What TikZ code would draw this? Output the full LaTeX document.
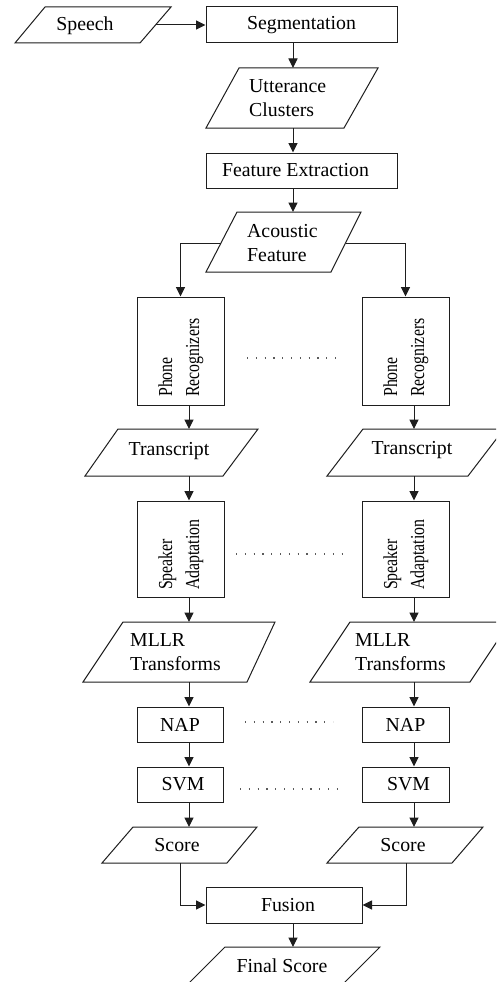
\documentclass[tikz,border=0pt]{standalone}
\usepackage{fontspec}
\setmainfont{Liberation Serif}
\usepackage{graphicx}
\usetikzlibrary{arrows.meta}
\definecolor{lc}{RGB}{30,30,30}
\definecolor{dotc}{RGB}{90,90,90}
\tikzset{
  every node/.style={font=\fontsize{19.8}{24}\selectfont, text=black, inner sep=0pt},
  stepbox/.style={draw=lc, line width=1pt, fill=white},
  pgon/.style={draw=lc, line width=1pt, fill=white, line join=miter},
  arr/.style={draw=lc, line width=1pt, -{Triangle[length=9.5pt,width=9pt]}},
  dots/.style={draw=dotc, line width=1.1pt, dash pattern=on 1.1pt off 7.7pt},
  rot/.style={rotate=90, anchor=base west},
  ml/.style={align=left, anchor=base west},
}
\begin{document}
\begin{tikzpicture}[x=1pt,y=-1pt]
\useasboundingbox (0,0) rectangle (496,982);
\clip (0,0) rectangle (496,982);
\fill[white] (0,0) rectangle (496,982);

% ---------- parallelogram outlines ----------
\draw[pgon] (45,7) -- (171,7) -- (140,43) -- (15,43) -- cycle;        % speech
\draw[pgon] (239,68) -- (378,68) -- (344,128) -- (206,128) -- cycle;  % utterance
\draw[pgon] (237,212) -- (361,212) -- (331,272) -- (206,272) -- cycle;% acoustic
\draw[pgon] (118,429) -- (258,429) -- (223,476) -- (85,476) -- cycle; % transcript L
\draw[pgon] (363,429) -- (504,429) -- (468,476) -- (327,476) -- cycle;% transcript R
\draw[pgon] (123,622) -- (275,622) -- (247,682) -- (83,682) -- cycle; % MLLR L
\draw[pgon] (350,622) -- (510,622) -- (470,682) -- (310,682) -- cycle;% MLLR R
\draw[pgon] (133,827) -- (257,827) -- (227,863) -- (102,863) -- cycle;% score L
\draw[pgon] (359,827) -- (483,827) -- (452,863) -- (327,863) -- cycle;% score R
\draw[pgon] (225,947) -- (380,947) -- (344,983) -- (189,983) -- cycle;% final

% ---------- texts of parallelograms ----------
\node (speech) at (85,26) {Speech};
\node[ml] (utt) at (249,116) {Utterance\\Clusters};
\node[ml] (acou) at (247,261) {Acoustic\\Feature};
\node (trL) at (169,451) {Transcript};
\node (trR) at (412,450) {Transcript};
\node[ml] (mllrL) at (130,670) {MLLR\\Transforms};
\node[ml] (mllrR) at (355,670) {MLLR\\Transforms};
\node (scL) at (177,845) {Score};
\node (scR) at (403,845) {Score};
\node (final) at (282,966) {Final Score};

% ---------- rectangles ----------
\node[stepbox, minimum width=191pt, minimum height=36pt] (seg) at (301.5,25) {Segmentation};
\node[stepbox, minimum width=191pt, minimum height=35pt] (feat) at (301.5,170.5) {\hspace*{-12pt}Feature Extraction};
\node[stepbox, minimum width=87pt, minimum height=108pt] (prL) at (180.5,351) {};
\node[stepbox, minimum width=87pt, minimum height=108pt] (prR) at (405.5,351) {};
\node[stepbox, minimum width=87pt, minimum height=96pt] (saL) at (180.5,549) {};
\node[stepbox, minimum width=87pt, minimum height=96pt] (saR) at (405.5,549) {};
\node[stepbox, minimum width=86pt, minimum height=35pt] (napL) at (180,724.5) {NAP};
\node[stepbox, minimum width=87pt, minimum height=35pt] (napR) at (405.5,724.5) {NAP};
\node[stepbox, minimum width=86pt, minimum height=35pt] (svmL) at (180,784.5) {\hspace*{6pt}SVM};
\node[stepbox, minimum width=87pt, minimum height=35pt] (svmR) at (405.5,784.5) {\hspace*{6pt}SVM};
\node[stepbox, minimum width=156pt, minimum height=36pt] (fus) at (284,905) {\hspace*{8pt}Fusion};

% rotated labels
\node[rot] (prL1) at (172,397) {\scalebox{0.8}[1]{Phone}};
\node[rot] (prL2) at (199,397) {\scalebox{0.8}[1]{Recognizers}};
\node[rot] (prR1) at (397,397) {\scalebox{0.8}[1]{Phone}};
\node[rot] (prR2) at (424,397) {\scalebox{0.8}[1]{Recognizers}};
\node[rot] (saL1) at (172,590) {\scalebox{0.8}[1]{Speaker}};
\node[rot] (saL2) at (199,590) {\scalebox{0.8}[1]{Adaptation}};
\node[rot] (saR1) at (397,590) {\scalebox{0.8}[1]{Speaker}};
\node[rot] (saR2) at (424,590) {\scalebox{0.8}[1]{Adaptation}};

% ---------- connection points on parallelograms ----------
\coordinate (speechE) at (156,25);
\coordinate (uttN) at (293,68);   \coordinate (uttS) at (293,128);
\coordinate (acouN) at (293,212);
\coordinate (acouW) at (221,243); \coordinate (acouE) at (346,243);
\coordinate (trLN) at (189,429);  \coordinate (trLS) at (189,476);
\coordinate (trRN) at (414,429);  \coordinate (trRS) at (414,476);
\coordinate (mlLN) at (189,622);  \coordinate (mlLS) at (189,682);
\coordinate (mlRN) at (414,622);  \coordinate (mlRS) at (414,682);
\coordinate (scLN) at (189,827);  \coordinate (scLS) at (180,863);
\coordinate (scRN) at (414,827);  \coordinate (scRS) at (406,863);
\coordinate (finN) at (293,947);

% ---------- connectors ----------
\draw[arr] (speechE) -- (seg.west);
\draw[arr] (seg.south -| uttN) -- (uttN);
\draw[arr] (uttS) -- (feat.north -| uttS);
\draw[arr] (feat.south -| acouN) -- (acouN);
\draw[arr] (acouW) -| (prL.north);
\draw[arr] (acouE) -| (prR.north);
\draw[arr] (prL.south -| trLN) -- (trLN);
\draw[arr] (prR.south -| trRN) -- (trRN);
\draw[arr] (trLS) -- (saL.north -| trLS);
\draw[arr] (trRS) -- (saR.north -| trRS);
\draw[arr] (saL.south -| mlLN) -- (mlLN);
\draw[arr] (saR.south -| mlRN) -- (mlRN);
\draw[arr] (mlLS) -- (napL.north -| mlLS);
\draw[arr] (mlRS) -- (napR.north -| mlRS);
\draw[arr] (napL.south -| mlLS) -- (svmL.north -| mlLS);
\draw[arr] (napR.south -| mlRS) -- (svmR.north -| mlRS);
\draw[arr] (svmL.south -| scLN) -- (scLN);
\draw[arr] (svmR.south -| scRN) -- (scRN);
\draw[arr] (scLS) |- (fus.west);
\draw[arr] (scRS) |- (fus.east);
\draw[arr] (fus.south -| finN) -- (finN);

% ---------- dotted separators ----------
\draw[dots] (247,358) -- (343,358);
\draw[dots] (236,554) -- (342,554);
\draw[dots] (245,722) -- (333,722);
\draw[dots] (240,789) -- (337,789);
\end{tikzpicture}
\end{document}
